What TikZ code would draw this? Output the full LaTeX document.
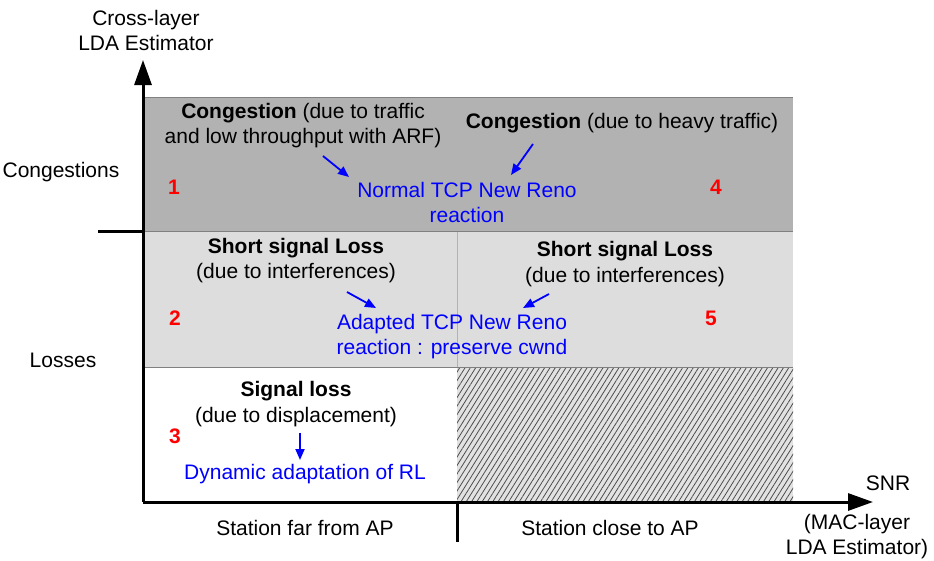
\documentclass[tikz,border=0pt]{standalone}
\usepackage{fontspec}
\setmainfont{Liberation Sans}
\usetikzlibrary{arrows.meta,patterns.meta}
\definecolor{congray}{HTML}{B2B2B2}
\definecolor{lossgray}{HTML}{DDDDDD}
\definecolor{hatchgray}{HTML}{E2E2E2}
\newcommand{\zone}[2]{node[red,font=\fontsize{21}{25.5}\selectfont\bfseries] (z#1) {#2}}

\begin{document}
\begin{tikzpicture}[x=1pt,y=-1pt,font=\fontsize{21}{25.5}\selectfont,
  axis/.style={line width=3pt},
  axtip/.style={-{Triangle[length=25pt,width=17pt]}},
  react/.style={blue,line width=1.8pt,-{Triangle[length=11pt,width=9pt]}},
  txt/.style={align=center,inner sep=0pt},
  btxt/.style={txt,blue}]
\useasboundingbox (0,0) rectangle (934,560);
% bands
\fill[congray] (143,97) rectangle (793,231);
\fill[lossgray] (143,231) rectangle (793,367);
\fill[hatchgray] (457,367) rectangle (793,502);
\fill[pattern={Lines[angle=58,distance=4.5pt,line width=.8pt]},pattern color=black!70] (457,367) rectangle (793,502);
\draw[gray!60] (457,97) -- (457,367);
\draw[gray,line width=1pt] (143,97) -- (793,97) (143,231) -- (793,231) (143,367) -- (793,367);
% axes
\draw[axis,axtip] (143,502) -- (143,60);
\draw[axis,axtip] (143,502) -- (873,502);
\draw[axis] (98,231) -- (143,231) (457,502) -- (457,542);
\node[txt] (yax) at (146,30.5) {Cross-layer\\LDA Estimator};
\node[txt] (xax) at (888,483) {SNR};
\node[txt] (xsub) at (857,536.5) {(MAC-layer\\LDA Estimator)};
\node[txt] (cong) at (61,172) {Congestions};
\node[txt] (loss) at (63,360) {Losses};
\node[txt] (far) at (305,528) {Station far from AP};
\node[txt] (close) at (610,528) {Station close to AP};
% zone numbers
\path (174,187) \zone{1}{1} (175,318) \zone{2}{2} (175,436) \zone{3}{3}
      (716,187) \zone{4}{4} (711,318) \zone{5}{5};
% causes
\node[txt] (c1) at (303,125.5) {\textbf{Congestion} (due to traffic\\and low throughput with ARF)};
\node[txt] (c4) at (622,123) {\textbf{Congestion} (due to heavy traffic)};
\node[txt] (s2) at (296,260.5) {\textbf{Short signal Loss}\\(due to interferences)};
\node[txt] (s5) at (625,264) {\textbf{Short signal Loss}\\(due to interferences)};
\node[txt] (d3) at (296,404) {\textbf{Signal loss}\\(due to displacement)};
% reactions
\node[btxt] (r14) at (467,202.5) {Normal TCP New Reno\\reaction};
\node[btxt] (r25) at (452,336.5) {Adapted TCP New Reno\\reaction : preserve cwnd};
\node[btxt] (r3) at (305,474) {Dynamic adaptation of RL};
\coordinate (a1) at (323,156); \coordinate (b1) at (349,177);
\coordinate (a4) at (533,144); \coordinate (b4) at (511,175);
\coordinate (a2) at (347,292); \coordinate (b2) at (376,308);
\coordinate (a5) at (549,294); \coordinate (b5) at (523,308);
\coordinate (a3) at (300,433); \coordinate (b3) at (300,460);
\draw[react] (a1) -- (b1);
\draw[react] (a4) -- (b4);
\draw[react] (a2) -- (b2);
\draw[react] (a5) -- (b5);
\draw[react] (a3) -- (b3);
\end{tikzpicture}
\end{document}
